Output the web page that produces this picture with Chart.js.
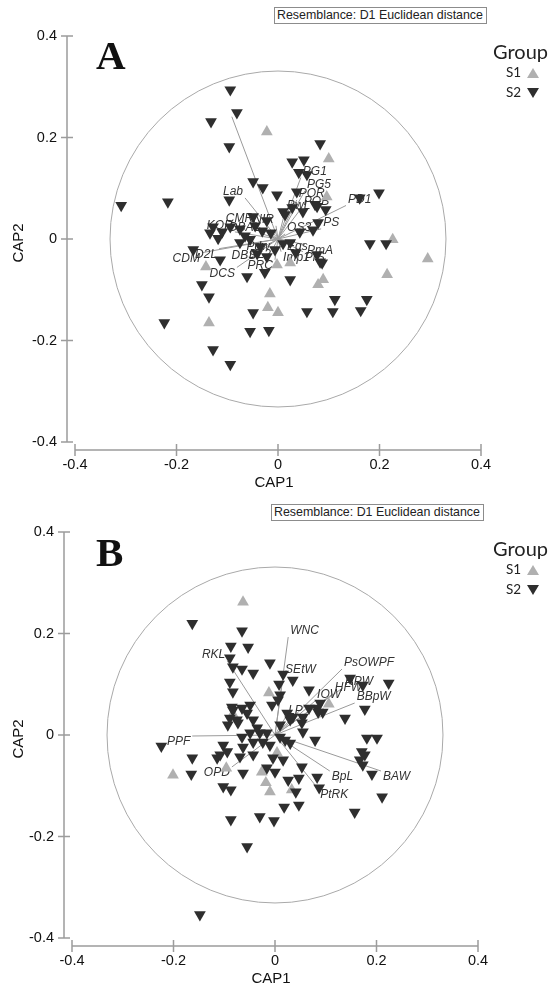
<!DOCTYPE html>
<html>
<head>
<meta charset="utf-8">
<title>CAP ordination</title>
<script src="https://cdn.jsdelivr.net/npm/chart.js@4.4.1/dist/chart.umd.min.js"></script>
<style>
  html, body { margin: 0; padding: 0; background: #fff; }
  body { width: 552px; height: 987px; overflow: hidden; position: relative; font-family: "Liberation Sans", Arial, sans-serif; }
  .panel { position: absolute; width: 552px; height: 496px; }
  .panel canvas { position: absolute; left: 0; top: 0; }
  .note { position: absolute; height: 15px; border: 1px solid #8c8c8c; font-size: 12.4px; line-height: 15px; color: #222; padding: 0 3px 0 2px; white-space: nowrap; background: #fff; }
  .letter { position: absolute; font-family: "Liberation Serif", "Times New Roman", serif; font-weight: bold; font-size: 41px; line-height: 41px; color: #111; }
  .lg { position: absolute; font-family: Lato, "Open Sans", sans-serif; color: #222; white-space: nowrap; }
  .lg-title { font-size: 20px; line-height: 20px; }
  .lg-item { font-size: 13.5px; line-height: 13.5px; }
  .tri-up { position: absolute; width: 0; height: 0; border-left: 6px solid transparent; border-right: 6px solid transparent; border-bottom: 10px solid #b0b0b0; }
  .tri-down { position: absolute; width: 0; height: 0; border-left: 6px solid transparent; border-right: 6px solid transparent; border-top: 10px solid #2e2e2e; }
</style>
</head>
<body>

<div class="panel" style="left:0; top:0;"><canvas id="chartA" width="552" height="496"></canvas></div>
<div class="panel" style="left:-3px; top:496px;"><canvas id="chartB" width="552" height="496"></canvas></div>

<div class="note" style="left:274px; top:7px;">Resemblance: D1 Euclidean distance</div>
<div class="note" style="left:271px; top:504px;">Resemblance: D1 Euclidean distance</div>

<div class="letter" style="left:96px; top:35px;">A</div>
<div class="letter" style="left:96px; top:532px;">B</div>

<div class="lg lg-title" style="left:493px; top:41px;">Group</div>
<div class="lg lg-item" style="left:506px; top:66px;">S1</div>
<div class="tri-up" style="left:527px; top:68px;"></div>
<div class="lg lg-item" style="left:506px; top:86px;">S2</div>
<div class="tri-down" style="left:527px; top:88px;"></div>

<div class="lg lg-title" style="left:493px; top:538px;">Group</div>
<div class="lg lg-item" style="left:506px; top:563px;">S1</div>
<div class="tri-up" style="left:527px; top:565px;"></div>
<div class="lg lg-item" style="left:506px; top:583px;">S2</div>
<div class="tri-down" style="left:527px; top:585px;"></div>

<script>
const tickValues = [-0.4, -0.2, 0, 0.2, 0.4];
const circleRadius = 0.331;

// Panel A - sites
const s1AX = [-0.022, 0.100, 0.096, 0.226, 0.295, 0.215, -0.142, -0.002, 0.024, 0.089, 0.079, -0.016, -0.020, 0.000, -0.136];
const s1AY = [0.211, 0.158, 0.083, -0.001, -0.039, -0.070, -0.055, -0.051, -0.047, -0.080, -0.090, -0.108, -0.135, -0.145, -0.165];
const s2AX = [-0.094, -0.081, -0.132, -0.096, 0.083, 0.028, 0.051, 0.041, 0.057, -0.049,
              -0.030, -0.002, 0.037, -0.309, -0.217, -0.096, 0.161, 0.199, 0.010, 0.028,
              0.049, 0.077, 0.094, 0.069, 0.079, -0.128, -0.134, -0.118, -0.094, -0.075,
              -0.049, -0.045, -0.022, -0.031, -0.014, -0.075, -0.055, -0.035, -0.041, -0.022,
              -0.026, -0.061, -0.167, -0.114, -0.150, -0.136, 0.024, 0.077, 0.087, 0.024,
              0.181, 0.213, 0.112, 0.175, 0.057, 0.108, 0.163, -0.049, -0.224, -0.128,
              -0.094, -0.055, -0.018, 0.014, 0.073, 0.043, 0.010, 0.083, -0.110, -0.065,
              -0.006, 0.035];
const s2AY = [0.294, 0.249, 0.231, 0.182, 0.188, 0.152, 0.156, 0.131, 0.127, 0.113,
              0.101, 0.087, 0.093, 0.066, 0.073, 0.077, 0.081, 0.091, 0.054, 0.062,
              0.054, 0.064, 0.058, 0.018, 0.032, 0.024, 0.012, 0.001, 0.024, 0.020,
              0.044, 0.026, 0.036, 0.016, 0.012, -0.007, -0.001, -0.015, -0.029, -0.035,
              -0.066, -0.074, -0.021, -0.041, -0.090, -0.114, -0.080, -0.031, -0.047, -0.007,
              -0.009, -0.009, -0.119, -0.119, -0.143, -0.143, -0.141, -0.145, -0.165, -0.218,
              -0.247, -0.182, -0.180, 0.048, 0.068, 0.014, -0.009, -0.045, 0.014, 0.006,
              -0.021, -0.027];

// Panel A - variable vectors
const vecNamesA = ['', 'Lab', 'PG1', 'PG5', 'POR', 'POB', 'PD1', 'PS', 'OS3', 'Eqs', 'PmA', 'Imp1', 'PrS',
                   'CDM', 'D2L', 'DCS', 'DBS', 'DL2', 'PRC', 'Pdw', 'CMR', 'NIR', 'KOR', 'DBAL', 'BwL'];
const vecXA = [-0.091, -0.065, 0.045, 0.053, 0.037, 0.047, 0.134, 0.085, 0.014, 0.014, 0.053, 0.006, 0.049,
               -0.150, -0.116, -0.081, -0.039, -0.010, -0.006, -0.012, -0.045, -0.004, -0.085, -0.031, 0.014];
const vecYA = [0.241, 0.081, 0.121, 0.095, 0.077, 0.062, 0.066, 0.020, 0.010, -0.003, -0.011, -0.025, -0.025,
               -0.027, -0.019, -0.056, -0.021, -0.019, -0.041, -0.003, 0.028, 0.026, 0.014, 0.010, 0.054];

// Panel B - sites
const s1BX = [-0.063, -0.012, 0.106, -0.201, -0.096, -0.026, -0.018, -0.010, 0.033, -0.083, 0.004];
const s1BY = [0.262, 0.083, 0.061, -0.079, -0.065, -0.073, -0.094, -0.112, -0.108, 0.041, -0.035];
const s2BX = [-0.163, -0.065, -0.087, -0.053, -0.089, -0.083, -0.065, -0.043, -0.010, 0.016,
              0.035, -0.089, -0.083, 0.008, 0.010, 0.067, 0.148, 0.173, 0.224, 0.177,
              0.138, 0.089, 0.094, 0.083, 0.055, 0.053, 0.024, 0.035, -0.085, -0.065,
              -0.049, -0.055, -0.043, -0.075, -0.093, -0.073, -0.065, -0.049, -0.030, -0.016,
              -0.043, -0.024, -0.010, 0.010, 0.030, 0.020, 0.079, 0.181, 0.201, 0.171,
              0.177, 0.167, 0.173, 0.191, 0.211, 0.157, -0.224, -0.163, -0.165, -0.114,
              -0.102, -0.094, -0.108, -0.063, -0.069, -0.043, -0.063, -0.102, -0.087, -0.004,
              0.016, -0.016, 0.000, 0.053, 0.047, 0.026, 0.041, 0.083, 0.087, 0.018,
              0.047, -0.087, -0.030, -0.002, -0.055, -0.148, 0.006, -0.006, 0.010, 0.030,
              0.055, 0.067, 0.085, -0.083, -0.089, -0.035];
const s2BY = [0.220, 0.205, 0.175, 0.173, 0.152, 0.134, 0.130, 0.122, 0.142, 0.120,
              0.108, 0.104, 0.085, 0.100, 0.079, 0.089, 0.112, 0.098, 0.102, 0.051,
              0.033, 0.063, 0.045, 0.053, 0.035, 0.024, 0.043, 0.035, 0.055, 0.053,
              0.059, 0.043, 0.030, 0.030, 0.020, 0.024, -0.004, 0.004, 0.004, 0.004,
              -0.014, -0.014, -0.020, -0.004, -0.016, -0.010, -0.010, -0.006, -0.006, -0.033,
              -0.039, -0.049, -0.059, -0.077, -0.122, -0.152, -0.022, -0.045, -0.077, -0.045,
              -0.020, -0.033, -0.039, -0.024, -0.043, -0.039, -0.075, -0.102, -0.108, -0.045,
              -0.049, -0.065, -0.073, -0.063, -0.085, -0.089, -0.112, -0.083, -0.104, -0.142,
              -0.138, -0.167, -0.161, -0.169, -0.220, -0.354, 0.069, 0.059, 0.020, 0.030,
              0.006, 0.053, 0.045, 0.049, 0.033, 0.014];

// Panel B - variable vectors
const vecNamesB = ['PPF', 'OPD', 'BpL', 'PtRK', 'BAW', 'RKL', 'WNC', 'SEtW', 'PsOWPF', 'HPW', 'HFW', 'IOW', 'BBpW', 'LP'];
const vecXB = [-0.163, -0.085, 0.108, 0.085, 0.209, -0.094, 0.026, 0.016, 0.132, 0.134, 0.114, 0.079, 0.157, 0.022];
const vecYB = [-0.002, -0.063, -0.071, -0.106, -0.071, 0.146, 0.193, 0.116, 0.130, 0.093, 0.081, 0.067, 0.063, 0.037];

const fontFamily = '"Liberation Sans", Arial, sans-serif';

function toPoints(xs, ys) {
    return xs.map((x, i) => ({ x: x, y: ys[i] }));
}

// each vector is origin -> tip, with a gap point between vectors
function vectorSegments(xs, ys) {
    const pts = [];
    xs.forEach((x, i) => {
        pts.push({ x: 0, y: 0 }, { x: x, y: ys[i] }, { x: null, y: null });
    });
    return pts;
}

// circle, axis lines and vector labels
const capDecor = {
    id: 'capDecor',
    beforeDatasetsDraw(chart) {
        const { ctx, chartArea } = chart;
        const xs = chart.scales.x, ys = chart.scales.y;
        const cx = xs.getPixelForValue(0), cy = ys.getPixelForValue(0);
        const r = xs.getPixelForValue(circleRadius) - cx;
        ctx.save();
        ctx.strokeStyle = '#a9a9a9';
        ctx.lineWidth = 1;
        ctx.beginPath();
        ctx.arc(cx, cy, r, 0, Math.PI * 2);
        ctx.stroke();

        ctx.strokeStyle = '#9c9c9c';
        ctx.lineWidth = 1.5;
        const xl = chartArea.left, yb = chartArea.bottom;
        ctx.beginPath();
        ctx.moveTo(xl, ys.getPixelForValue(0.4));
        ctx.lineTo(xl, ys.getPixelForValue(-0.4));
        tickValues.forEach(v => {
            const p = ys.getPixelForValue(v);
            ctx.moveTo(xl - 6, p);
            ctx.lineTo(xl + 6, p);
        });
        ctx.moveTo(xs.getPixelForValue(-0.4), yb);
        ctx.lineTo(xs.getPixelForValue(0.4), yb);
        tickValues.forEach(v => {
            const p = xs.getPixelForValue(v);
            ctx.moveTo(p, yb - 6);
            ctx.lineTo(p, yb + 6);
        });
        ctx.stroke();
        ctx.restore();
    },
    afterDatasetDraw(chart, args, opts) {
        if (args.index !== 0) return;
        const { ctx } = chart;
        const xs = chart.scales.x, ys = chart.scales.y;
        ctx.save();
        ctx.font = 'italic 12px ' + fontFamily;
        ctx.fillStyle = '#333';
        opts.names.forEach((name, i) => {
            if (!name) return;
            const vx = opts.xs[i], vy = opts.ys[i];
            const px = xs.getPixelForValue(vx), py = ys.getPixelForValue(vy);
            ctx.textAlign = vx >= 0 ? 'left' : 'right';
            ctx.textBaseline = vy >= 0 ? 'bottom' : 'top';
            ctx.fillText(name, px + (vx >= 0 ? 2 : -2), py);
        });
        ctx.restore();
    }
};

function makePanel(canvasId, s1x, s1y, s2x, s2y, names, vx, vy, titleLeft) {
    const tickFont = { family: fontFamily, size: 14.5 };
    const titleFont = { family: fontFamily, size: 15 };
    return new Chart(document.getElementById(canvasId), {
        type: 'scatter',
        data: {
            datasets: [
                {
                    label: 'vectors',
                    data: vectorSegments(vx, vy),
                    showLine: true,
                    spanGaps: false,
                    borderColor: '#9a9a9a',
                    borderWidth: 1,
                    pointRadius: 0,
                    order: 3
                },
                {
                    label: 'S1',
                    data: toPoints(s1x, s1y),
                    pointStyle: 'triangle',
                    pointRadius: 6.8,
                    pointBackgroundColor: '#b0b0b0',
                    pointBorderWidth: 0,
                    order: 2
                },
                {
                    label: 'S2',
                    data: toPoints(s2x, s2y),
                    pointStyle: 'triangle',
                    pointRotation: 180,
                    pointRadius: 6.8,
                    pointBackgroundColor: '#2e2e2e',
                    pointBorderWidth: 0,
                    order: 1
                }
            ]
        },
        options: {
            responsive: false,
            animation: false,
            events: [],
            layout: { padding: { top: 36, right: 71, left: 0, bottom: 0 } },
            plugins: {
                legend: { display: false },
                tooltip: { enabled: false },
                capDecor: { names: names, xs: vx, ys: vy }
            },
            scales: {
                x: {
                    type: 'linear',
                    min: -0.4 - 8 / 507.5,
                    max: 0.4,
                    afterBuildTicks: s => { s.ticks = tickValues.map(v => ({ value: v })); },
                    afterFit: s => { s.height = 46; },
                    grid: { display: false, drawTicks: false },
                    border: { display: false },
                    ticks: { padding: 6, font: tickFont, color: '#111', callback: v => String(v) },
                    title: { display: true, text: 'CAP1', font: titleFont, color: '#111', padding: { top: 0, bottom: 4 } }
                },
                y: {
                    type: 'linear',
                    min: -0.4 - 8 / 507.5,
                    max: 0.4,
                    afterBuildTicks: s => { s.ticks = tickValues.map(v => ({ value: v })); },
                    afterFit: s => { s.width = 67; },
                    grid: { display: false, drawTicks: false },
                    border: { display: false },
                    ticks: { padding: 10, font: tickFont, color: '#111', callback: v => String(v) },
                    title: { display: true, text: 'CAP2', font: titleFont, color: '#111', padding: { top: titleLeft, bottom: 0 } }
                }
            }
        },
        plugins: [capDecor]
    });
}

makePanel('chartA', s1AX, s1AY, s2AX, s2AY, vecNamesA, vecXA, vecYA, 10);
makePanel('chartB', s1BX, s1BY, s2BX, s2BY, vecNamesB, vecXB, vecYB, 13);
</script>
</body>
</html>
